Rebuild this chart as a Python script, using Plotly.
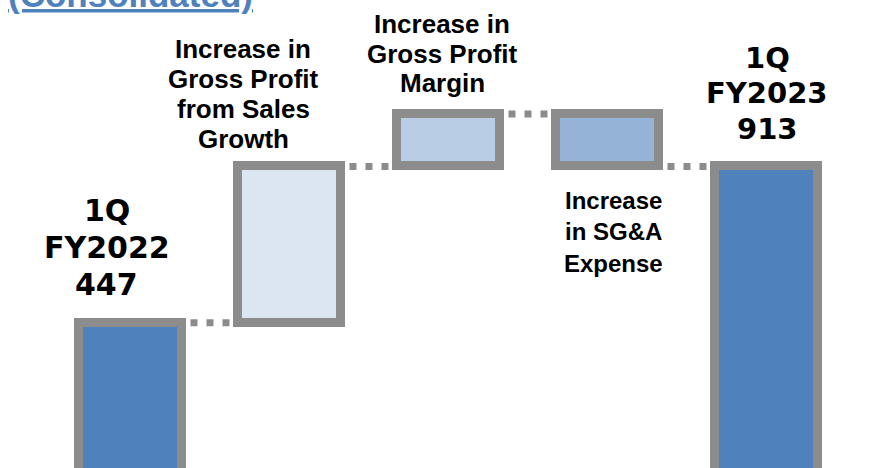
import plotly.graph_objects as go

# ---------------- data ----------------
categories = ["1Q FY2022",
              "Increase in Gross Profit from Sales Growth",
              "Increase in Gross Profit Margin",
              "Increase in SG&A Expense",
              "1Q FY2023"]
measures = ["absolute", "relative", "relative", "relative", "total"]
values = [447, 466, 156, -156, 913]
label_lines = [["1Q", "FY2022", "447"],
               ["Increase in", "Gross Profit", "from Sales", "Growth"],
               ["Increase in", "Gross Profit", "Margin"],
               ["Increase", "in SG&A", "Expense"],
               ["1Q", "FY2023", "913"]]
title_text = "(Consolidated)"

# ---------------- style ----------------
W, H = 888, 468
ML, MR, MT, MB = 51, 42, 0, 0
fill_colors = ["#4f81bd", "#dce6f2", "#b9cde5", "#95b3d7", "#4f81bd"]
border_color = "#8c8c8c"
bar_width = 0.654
y_range = [14, 1409]

# label placement (pixel centres) and fonts
label_style = [
    dict(x=106.5, ys=[211, 247, 284], family="DejaVu Sans", size=30),
    dict(x=243, ys=[49, 79, 109, 139], family="Liberation Sans", size=26),
    dict(x=442, ys=[24, 53.5, 83], family="Liberation Sans", size=26),
    dict(x=613, ys=[200, 231, 263], family="Liberation Sans", size=24),
    dict(x=767, ys=[58, 93, 129], family="DejaVu Sans", size=29),
]

# ---------------- compute waterfall ----------------
bases, heights, levels = [], [], []
running = 0
for m, v in zip(measures, values):
    if m == "absolute":
        bases.append(0); heights.append(v); running = v
    elif m == "relative":
        bases.append(running); heights.append(v); running += v
    else:
        bases.append(0); heights.append(running)
    levels.append(running)

xs = list(range(len(categories)))

fig = go.Figure()
fig.add_trace(go.Bar(
    x=xs, y=heights, base=bases, width=bar_width,
    marker=dict(color=fill_colors, line=dict(color=border_color, width=9)),
    hoverinfo="skip", showlegend=False,
))

for i in range(len(xs) - 1):
    fig.add_trace(go.Scatter(
        x=[xs[i] + bar_width / 2, xs[i + 1] - bar_width / 2],
        y=[levels[i], levels[i]],
        mode="lines",
        line=dict(color=border_color, width=7, dash="0px,8px,7px,1px"),
        hoverinfo="skip", showlegend=False,
    ))

plot_w = W - ML - MR
plot_h = H - MT - MB


def px_to_paper_x(px):
    return (px - ML) / plot_w


def px_to_paper_y(py):
    return 1 - (py - MT) / plot_h


annotations = []
for lines, st in zip(label_lines, label_style):
    for line, py in zip(lines, st["ys"]):
        annotations.append(dict(
            text=line, xref="paper", yref="paper",
            x=px_to_paper_x(st["x"]), y=px_to_paper_y(py),
            xanchor="center", yanchor="middle", showarrow=False,
            font=dict(family=st["family"], size=st["size"], color="#000000", weight="bold"),
        ))

annotations.append(dict(
    text=title_text, xref="paper", yref="paper",
    x=px_to_paper_x(130), y=px_to_paper_y(-6),
    xanchor="center", yanchor="middle", showarrow=False,
    font=dict(family="Liberation Sans", size=35, color="#4f81bd", weight="bold",
              lineposition="under"),
))

fig.update_layout(
    width=W, height=H,
    margin=dict(l=ML, r=MR, t=MT, b=MB, pad=0),
    paper_bgcolor="white", plot_bgcolor="white",
    xaxis=dict(range=[-0.5, len(xs) - 0.5], visible=False, fixedrange=True),
    yaxis=dict(range=y_range, visible=False, fixedrange=True),
    annotations=annotations,
    bargap=0,
)

fig.write_html("out.html", config={"displayModeBar": False},
               post_script="document.body.style.margin='0';")
